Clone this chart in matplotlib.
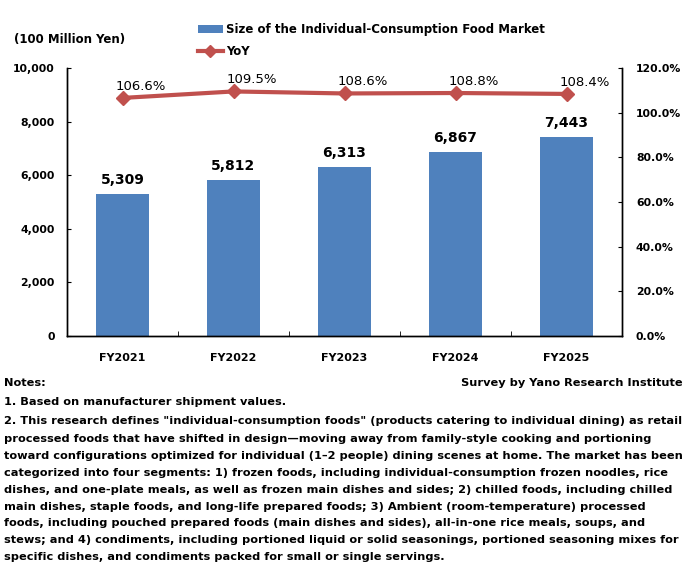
import matplotlib
matplotlib.use("Agg")
import matplotlib.pyplot as plt
from matplotlib.lines import Line2D
from matplotlib.patches import Patch
from matplotlib.ticker import FuncFormatter, FixedLocator

plt.rcParams['font.family'] = ['DejaVu Sans']

categories = ["FY2021", "FY2022", "FY2023", "FY2024", "FY2025"]
market_size = [5309, 5812, 6313, 6867, 7443]
yoy = [106.6, 109.5, 108.6, 108.8, 108.4]

bar_label = "Size of the Individual-Consumption Food Market"
line_label = "YoY"
unit_label = "(100 Million Yen)"
source = "Survey by Yano Research Institute"
notes = [
    "Notes:",
    "1. Based on manufacturer shipment values.",
    "2. This research defines \"individual-consumption foods\" (products catering to individual dining) as retail",
    "processed foods that have shifted in design\u2014moving away from family-style cooking and portioning",
    "toward configurations optimized for individual (1\u20132 people) dining scenes at home. The market has been",
    "categorized into four segments: 1) frozen foods, including individual-consumption frozen noodles, rice",
    "dishes, and one-plate meals, as well as frozen main dishes and sides; 2) chilled foods, including chilled",
    "main dishes, staple foods, and long-life prepared foods; 3) Ambient (room-temperature) processed",
    "foods, including pouched prepared foods (main dishes and sides), all-in-one rice meals, soups, and",
    "stews; and 4) condiments, including portioned liquid or solid seasonings, portioned seasoning mixes for",
    "specific dishes, and condiments packed for small or single servings.",
]
note_y_px = [383, 402, 421, 439, 456, 473, 490, 507, 523, 540, 557]

W, H = 687, 569
fig = plt.figure(figsize=(W / 100, H / 100), dpi=100)
ax = fig.add_axes([67 / W, 1 - 336 / H, (622 - 67) / W, (336 - 68) / H])
ax2 = ax.twinx()

BLUE = "#4F81BD"
RED = "#C0504D"

x = list(range(len(categories)))
ax.bar(x, market_size, width=0.47, color=BLUE, zorder=2)
ax.set_xlim(-0.5, len(categories) - 0.5)
ax.set_ylim(0, 10000)
ax.set_yticks(range(0, 10001, 2000))
ax.yaxis.set_major_formatter(FuncFormatter(lambda v, p: f"{int(v):,}"))
ax.set_xticks(x)
ax.set_xticklabels(categories, fontsize=8, fontweight='bold')
ax.tick_params(axis='x', which='major', length=0, pad=12)
ax.xaxis.set_minor_locator(FixedLocator([i + 0.5 for i in range(-1, len(categories))]))
ax.tick_params(axis='x', which='minor', length=3.5, direction='in')
ax.tick_params(axis='y', length=3, direction='in', labelsize=7.8, pad=9)
for lab in ax.get_yticklabels():
    lab.set_fontweight('bold')

for xi, v in zip(x, market_size):
    ax.annotate(f"{v:,}", (xi, v), xytext=(0, 7), textcoords='offset pixels',
                ha='center', va='bottom', fontsize=10, fontweight='bold')

ax2.plot(x, yoy, color=RED, lw=3, marker='D', markersize=7, zorder=3)
ax2.set_ylim(0, 120)
ax2.set_yticks(range(0, 121, 20))
ax2.yaxis.set_major_formatter(FuncFormatter(lambda v, p: f"{v:.1f}%"))
ax2.tick_params(axis='y', length=3, direction='in', labelsize=7.8, pad=10)
for lab in ax2.get_yticklabels():
    lab.set_fontweight('bold')
for xi, v in zip(x, yoy):
    ax2.annotate(f"{v:.1f}%", (xi, v), xytext=(18, 5), textcoords='offset pixels',
                 ha='center', va='bottom', fontsize=9.5)

for a in (ax, ax2):
    a.spines['top'].set_visible(False)
    for s in ('left', 'right', 'bottom'):
        a.spines[s].set_linewidth(1.0)

handles = [Patch(facecolor=BLUE, edgecolor='none'),
           Line2D([], [], color=RED, lw=3, marker='D', markersize=6)]
fig.legend(handles, [bar_label, line_label], loc='upper left',
           bbox_to_anchor=(198 / W, 1 - 23 / H), frameon=False,
           prop={'size': 8.5, 'weight': 'bold'}, handlelength=2.1,
           handletextpad=0.3, labelspacing=0.75, borderaxespad=0, borderpad=0)

fig.text(14 / W, 1 - 40 / H, unit_label, fontsize=8.5, fontweight='bold',
         ha='left', va='center')

for txt, yp in zip(notes, note_y_px):
    fig.text(4 / W, 1 - yp / H, txt, fontsize=8.2, fontweight='bold',
             ha='left', va='center')
fig.text(683 / W, 1 - note_y_px[0] / H, source, fontsize=8.2, fontweight='bold',
         ha='right', va='center')

fig.savefig("out.png", dpi=100)
